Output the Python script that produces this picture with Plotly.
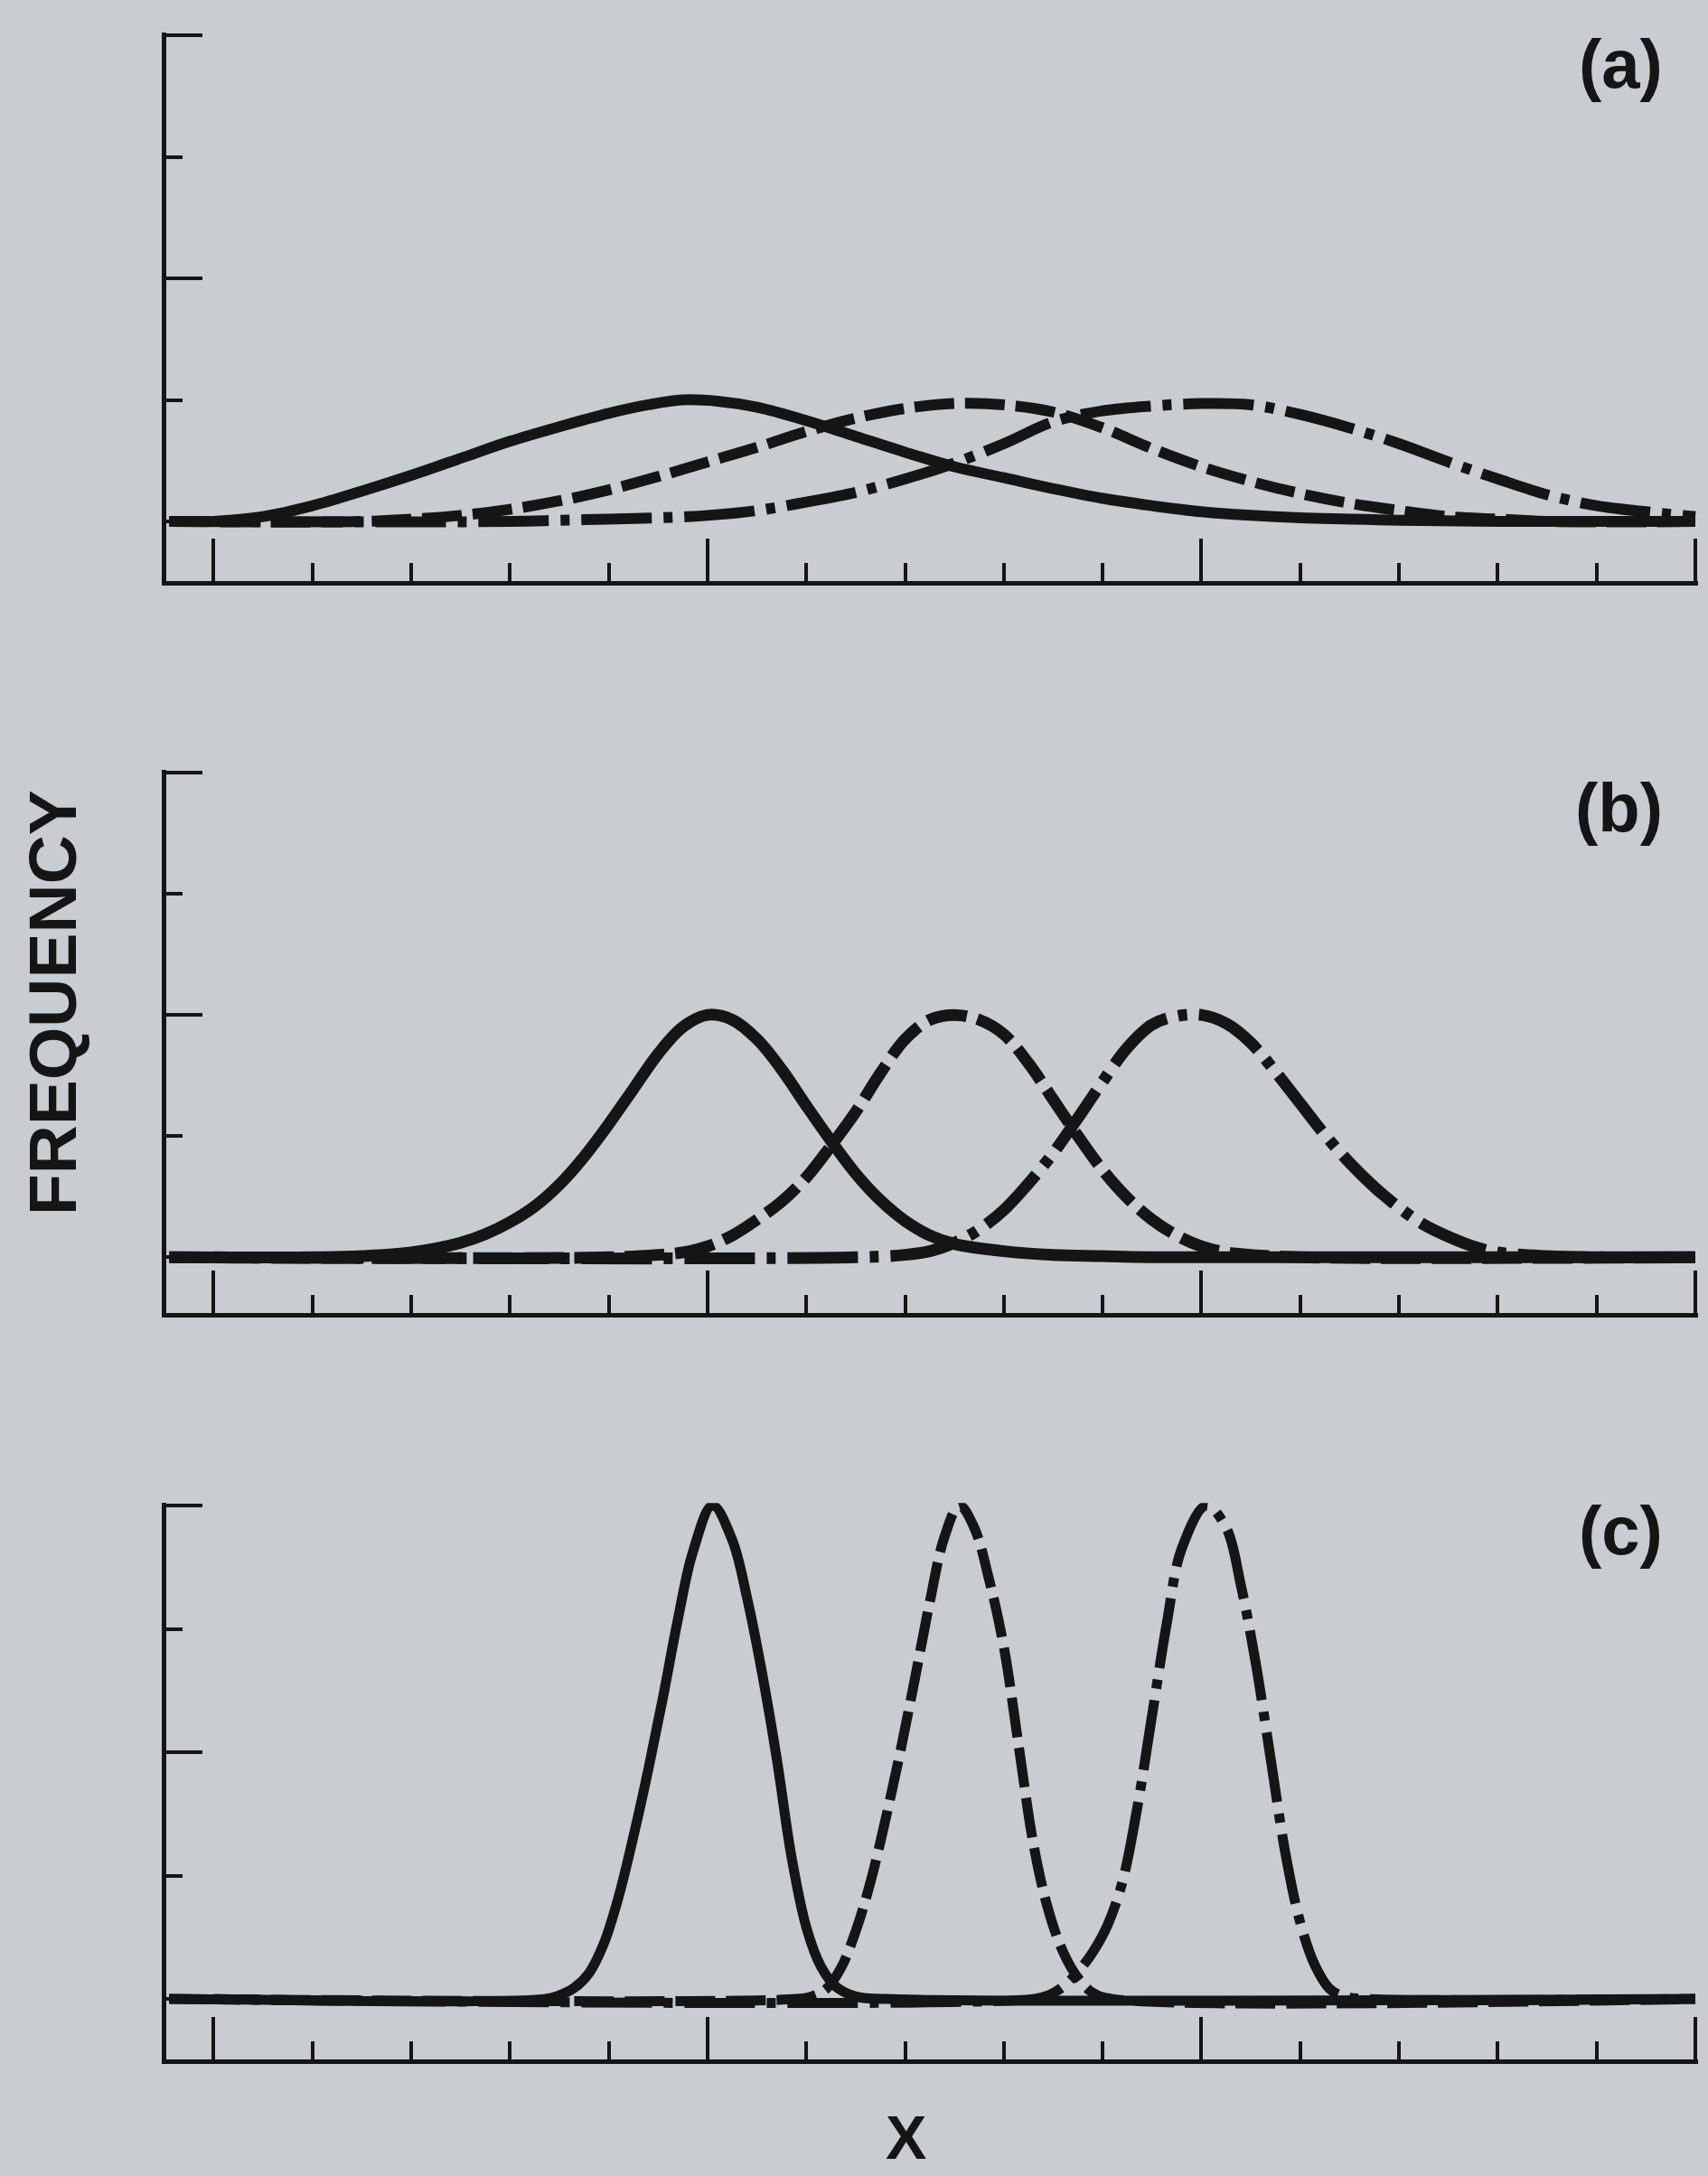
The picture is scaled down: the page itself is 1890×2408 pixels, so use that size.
import plotly.graph_objects as go

W, H = 1890, 2408
PAPER = "#c9ccd0"
INK = "#151515"
FONT = "Liberation Sans, Arial, Helvetica, sans-serif"

# ---- panel (a): broad, low curves -------------------------------------
a_solid_x = [0, 0.5, 1.0, 1.5, 2.0, 2.5, 3.0, 3.5, 4.0, 4.4, 4.75, 5.1, 5.5, 6.0, 6.5,
             7.0, 7.5, 8.0, 8.5, 9.0, 9.5, 10.0, 10.5, 11.0, 11.5, 12.0, 13.0, 15.0]
a_solid_y = [0, 0.04, 0.13, 0.25, 0.38, 0.52, 0.66, 0.78, 0.89, 0.96, 1.0, 0.99, 0.94, 0.83, 0.70,
             0.57, 0.45, 0.36, 0.27, 0.19, 0.13, 0.08, 0.05, 0.03, 0.02, 0.01, 0, 0]

a_dash_x = [-0.45, 1.5, 2.0, 2.5, 3.0, 3.5, 4.0, 4.5, 5.0, 5.5, 6.0, 6.5, 7.0, 7.5, 8.0,
            8.5, 9.0, 9.5, 10.0, 10.5, 11.0, 11.5, 12.0, 12.5, 13.0, 13.5, 15.0]
a_dash_y = [0, 0, 0.02, 0.05, 0.10, 0.17, 0.26, 0.37, 0.49, 0.61, 0.74, 0.85, 0.93, 0.97, 0.96,
            0.90, 0.77, 0.60, 0.45, 0.33, 0.23, 0.15, 0.09, 0.04, 0.02, 0, 0]

a_dashdot_x = [-0.45, 3.0, 3.5, 4.0, 4.5, 5.0, 5.5, 6.0, 6.5, 7.0, 7.5, 8.0, 8.5, 9.0,
               9.5, 10.0, 10.5, 11.0, 11.5, 12.0, 12.5, 13.0, 13.5, 14.0, 14.5, 15.0]
a_dashdot_y = [0, 0, 0.01, 0.02, 0.03, 0.05, 0.09, 0.16, 0.24, 0.35, 0.48, 0.64, 0.82, 0.91,
               0.95, 0.97, 0.96, 0.88, 0.77, 0.64, 0.49, 0.35, 0.22, 0.13, 0.08, 0.04]

# ---- panel (b): medium curves ----------------------------------------
b_solid_x = [0, 1.0, 1.5, 2.0, 2.5, 2.75, 3.0, 3.25, 3.5, 3.75, 4.0, 4.25, 4.5, 4.75, 5.0,
             5.25, 5.5, 5.75, 6.0, 6.25, 6.5, 6.75, 7.0, 7.25, 7.5, 8.0, 8.5, 9.0, 9.5, 15.0]
b_solid_y = [0, 0, 0.01, 0.04, 0.12, 0.19, 0.29, 0.42, 0.60, 0.83, 1.10, 1.39, 1.68, 1.90, 2.0,
             1.96, 1.80, 1.55, 1.25, 0.96, 0.69, 0.47, 0.30, 0.18, 0.11, 0.05, 0.02, 0.01, 0, 0]

b_dash_x = [-0.45, 4.0, 4.5, 4.75, 5.0, 5.25, 5.5, 5.75, 6.0, 6.25, 6.5, 6.75, 7.0, 7.25,
            7.5, 7.75, 8.0, 8.25, 8.5, 8.75, 9.0, 9.25, 9.5, 9.75, 10.0, 10.25, 10.5, 11.0, 15.0]
b_dash_y = [0, 0, 0.02, 0.04, 0.09, 0.18, 0.31, 0.46, 0.66, 0.92, 1.20, 1.52, 1.80, 1.96,
            2.0, 1.96, 1.84, 1.60, 1.30, 1.00, 0.72, 0.49, 0.31, 0.18, 0.09, 0.04, 0.02, 0, 0]

b_dashdot_x = [-0.45, 6.5, 7.0, 7.25, 7.5, 7.75, 8.0, 8.25, 8.5, 8.75, 9.0, 9.25, 9.5, 9.75,
               10.0, 10.25, 10.5, 10.75, 11.0, 11.25, 11.5, 11.75, 12.0, 12.25, 12.5, 12.75,
               13.0, 13.5, 14.0, 15.0]
b_dashdot_y = [0, 0, 0.02, 0.05, 0.12, 0.23, 0.39, 0.61, 0.86, 1.15, 1.45, 1.73, 1.92, 1.99,
               2.0, 1.93, 1.77, 1.53, 1.27, 1.01, 0.78, 0.58, 0.41, 0.27, 0.17, 0.09,
               0.04, 0.01, 0, 0]

# ---- panel (c): narrow, tall curves ----------------------------------
c_solid_x = [0, 3.35, 3.5, 3.65, 3.8, 3.95, 4.1, 4.25, 4.4, 4.55, 4.7, 4.85, 5.05, 5.25,
             5.4, 5.55, 5.7, 5.85, 6.0, 6.15, 6.3, 6.5, 6.8, 15.0]
c_solid_y = [0, 0, 0.03, 0.09, 0.21, 0.45, 0.83, 1.32, 1.86, 2.45, 3.08, 3.62, 4.0, 3.72,
             3.25, 2.65, 1.95, 1.15, 0.58, 0.26, 0.10, 0.02, 0, 0]

c_dash_x = [-0.45, 5.9, 6.05, 6.2, 6.35, 6.5, 6.65, 6.8, 6.95, 7.1, 7.25, 7.4, 7.55, 7.7,
            7.85, 8.0, 8.15, 8.3, 8.45, 8.6, 8.75, 8.9, 9.1, 15.0]
c_dash_y = [0, 0, 0.02, 0.08, 0.25, 0.55, 0.95, 1.45, 2.0, 2.6, 3.22, 3.75, 4.0, 3.82,
            3.4, 2.85, 2.05, 1.25, 0.72, 0.38, 0.17, 0.05, 0, 0]

c_dashdot_x = [-0.45, 8.3, 8.45, 8.6, 8.75, 8.9, 9.05, 9.2, 9.35, 9.5, 9.65, 9.8, 10.05,
               10.25, 10.4, 10.55, 10.7, 10.85, 11.0, 11.15, 11.3, 11.45, 11.7, 15.0]
c_dashdot_y = [0, 0, 0.03, 0.10, 0.22, 0.38, 0.60, 0.95, 1.55, 2.3, 3.05, 3.65, 4.0,
               3.82, 3.35, 2.72, 1.95, 1.18, 0.62, 0.27, 0.08, 0.02, 0, 0]

panel_labels = ["(a)", "(b)", "(c)"]
y_title = "FREQUENCY"
x_title = "X"

DASHED = "44px,12px"
DASHDOT = "78px,13px,10px,13px"

# pixel frame of each panel: y = 4 at "top", bottom axis line at "bottom"
panels = [
    dict(curves=[(a_dashdot_x, a_dashdot_y, DASHDOT), (a_dash_x, a_dash_y, DASHED),
                 (a_solid_x, a_solid_y, "solid")],
         width=12, top=39, bottom=643, ymin=-0.49),
    dict(curves=[(b_dashdot_x, b_dashdot_y, DASHDOT), (b_dash_x, b_dash_y, DASHED),
                 (b_solid_x, b_solid_y, "solid")],
         width=13, top=855, bottom=1453, ymin=-0.46),
    dict(curves=[(c_dashdot_x, c_dashdot_y, DASHDOT), (c_dash_x, c_dash_y, DASHED),
                 (c_solid_x, c_solid_y, "solid")],
         width=11, top=1666, bottom=2279, ymin=-0.49),
]

X_MIN, X_MAX = -0.48, 15.03
LEFT = 184
PX_PER_X = (1876 - LEFT) / (15.0 - X_MIN)
RIGHT = LEFT + PX_PER_X * (X_MAX - X_MIN)
Y_MAX = 4.02

fig = go.Figure()
layout = dict(
    width=W, height=H, margin=dict(l=0, r=0, t=0, b=0),
    paper_bgcolor=PAPER, plot_bgcolor=PAPER, showlegend=False,
)

for i, p in enumerate(panels):
    n = "" if i == 0 else str(i + 1)
    xa, ya = "x" + n, "y" + n
    for xs, ys, dash in p["curves"]:
        fig.add_trace(go.Scatter(
            x=xs, y=ys, mode="lines", xaxis=xa, yaxis=ya, cliponaxis=False,
            line=dict(color=INK, width=p["width"], dash=dash, shape="spline", smoothing=1.0),
            hoverinfo="skip"))
    px_per_y = (p["bottom"] - p["top"]) / (4.0 - p["ymin"])
    top_px = p["top"] - (Y_MAX - 4.0) * px_per_y
    layout["xaxis" + n] = dict(
        domain=[LEFT / W, RIGHT / W], range=[X_MIN, X_MAX], anchor=ya,
        showline=True, linecolor=INK, linewidth=5,
        ticks="inside", tickmode="linear", tick0=0, dtick=5,
        ticklen=47, tickwidth=4, tickcolor=INK,
        minor=dict(ticks="inside", tickmode="linear", tick0=0, dtick=1,
                   ticklen=20, tickwidth=4, tickcolor=INK),
        showticklabels=False, showgrid=False, zeroline=False)
    layout["yaxis" + n] = dict(
        domain=[1 - p["bottom"] / H, 1 - top_px / H], range=[p["ymin"], Y_MAX], anchor=xa,
        showline=True, linecolor=INK, linewidth=5,
        ticks="inside", tickmode="linear", tick0=0, dtick=2,
        ticklen=40, tickwidth=4, tickcolor=INK,
        minor=dict(ticks="inside", tickmode="linear", tick0=0, dtick=1,
                   ticklen=18, tickwidth=4, tickcolor=INK),
        showticklabels=False, showgrid=False, zeroline=False)

annotations = []
for lab, yc in zip(panel_labels, [70, 894, 1693]):
    annotations.append(dict(
        text="<b>%s</b>" % lab, xref="paper", yref="paper",
        x=1842 / W, y=1 - yc / H, xanchor="right", yanchor="middle",
        showarrow=False, font=dict(family=FONT, size=76, color=INK)))
annotations.append(dict(
    text="<b>%s</b>" % y_title, xref="paper", yref="paper",
    x=58 / W, y=1 - 1110 / H, xanchor="center", yanchor="middle", textangle=-90,
    showarrow=False, font=dict(family=FONT, size=75, color=INK)))
annotations.append(dict(
    text="<b>%s</b>" % x_title, xref="paper", yref="paper",
    x=1002 / W, y=1 - 2365 / H, xanchor="center", yanchor="middle",
    showarrow=False, font=dict(family=FONT, size=68, color=INK)))
layout["annotations"] = annotations

fig.update_layout(**layout)
fig.write_html("out.html")
